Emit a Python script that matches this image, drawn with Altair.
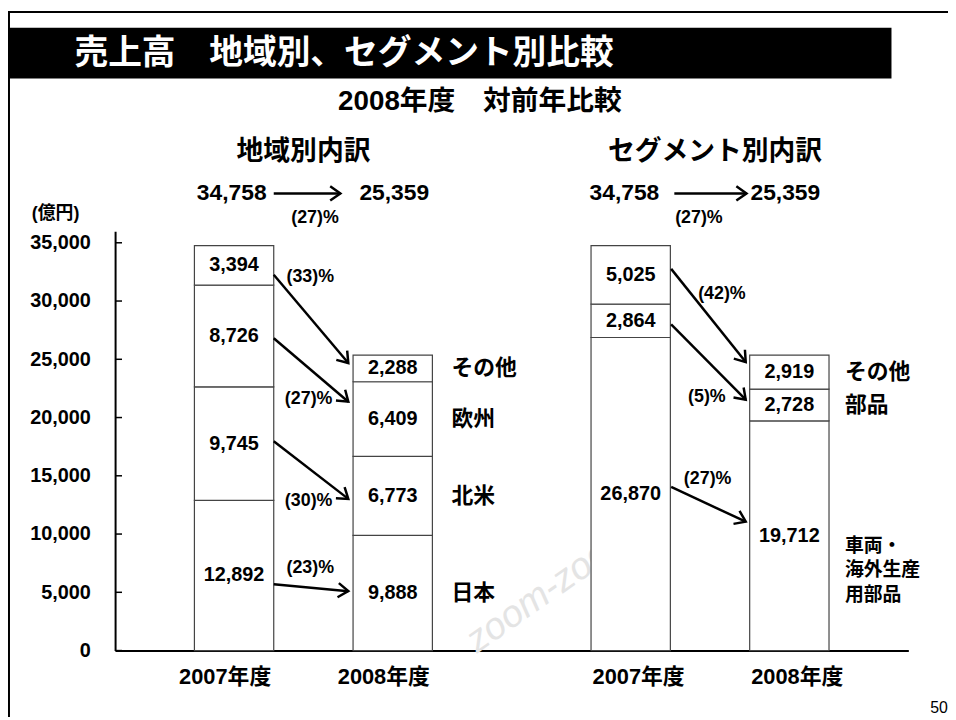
import math
import altair as alt
import pandas as pd

# ---------------- data (億円) ----------------
years = ["2007年度", "2008年度"]

region_names = ["日本", "北米", "欧州", "その他"]
region_2007 = [12892, 9745, 8726, 3394]
region_2008 = [9888, 6773, 6409, 2288]
region_change = ["(23)%", "(30)%", "(27)%", "(33)%"]

segment_names = ["車両・\n海外生産\n用部品", "部品", "その他"]
segment_2007 = [26870, 2864, 5025]
segment_2008 = [19712, 2728, 2919]
segment_change = ["(27)%", "(5)%", "(42)%"]

total_2007 = 34758
total_2008 = 25359
total_change = "(27)%"

y_ticks = [0, 5000, 10000, 15000, 20000, 25000, 30000, 35000]

# arrow end values
region_arrow_from = [5700, 17960, 26800, 32250]
region_arrow_to = [5100, 13020, 21360, 24680]
segment_arrow_from = [14040, 28000, 32760]
segment_arrow_to = [11060, 21530, 24760]

# where the change labels sit (slot, value)
region_change_at = [(2.46, 7060), (2.44, 12850), (2.44, 21620), (2.46, 32080)]
segment_change_at = [(7.47, 14720), (7.46, 21790), (7.65, 30640)]

# ---------------- layout ----------------
W, H = 800, 423
X_MAX, Y_MAX = 10, 36000
PX_X = W / X_MAX
PX_Y = H / Y_MAX
FONT = "Liberation Sans, Noto Sans CJK JP, sans-serif"
CJK = "Noto Sans CJK JP, sans-serif"

xscale = alt.Scale(domain=[0, X_MAX], nice=False, zero=False)
yscale = alt.Scale(domain=[0, Y_MAX], nice=False, zero=True)
xaxis = alt.Axis(labels=False, ticks=False, grid=False, title=None,
                 domainColor="black", domainWidth=2)
yaxis = alt.Axis(values=y_ticks, format=",d", labelFont=FONT, labelFontSize=20,
                 labelFontWeight="bold", labelColor="black", labelPadding=25,
                 ticks=False, grid=False, title=None,
                 domainColor="black", domainWidth=2)


def X(f):
    return alt.X(f"{f}:Q", scale=xscale, axis=xaxis)


def Y(f):
    return alt.Y(f"{f}:Q", scale=yscale, axis=yaxis)


panels = [
    dict(names=region_names, v07=region_2007, v08=region_2008, s07=1, s08=3,
         cat_x=4.24, chg=region_change, chg_at=region_change_at,
         a_from=region_arrow_from, a_to=region_arrow_to, ax0=2.0, ax1=2.94),
    dict(names=segment_names, v07=segment_2007, v08=segment_2008, s07=6, s08=8,
         cat_x=9.2, chg=segment_change, chg_at=segment_change_at,
         a_from=segment_arrow_from, a_to=segment_arrow_to, ax0=7.01, ax1=7.95),
]

bar_rows, cat_rows, arrow_rows, chg_rows = [], [], [], []
for p in panels:
    for slot, vals, last in ((p["s07"], p["v07"], False), (p["s08"], p["v08"], True)):
        cum = 0
        for name, v in zip(p["names"], vals):
            row = dict(x0=slot, x1=slot + 1, y0=cum, y1=cum + v, yc=cum + v / 2,
                       xc=slot + 0.5, label=f"{v:,}", name=name)
            bar_rows.append(row)
            if last:
                cat_rows.append(dict(x=p["cat_x"], y=cum + v / 2, name=name,
                                     multi="\n" in name))
            cum += v
    for f, t, c, (cx, cy) in zip(p["a_from"], p["a_to"], p["chg"], p["chg_at"]):
        ang = math.degrees(math.atan2((f - t) * PX_Y, (p["ax1"] - p["ax0"]) * PX_X)) % 360
        arrow_rows.append(dict(x0=p["ax0"], x1=p["ax1"], y0=f, y1=t, angle=ang))
        chg_rows.append(dict(x=cx, y=cy, label=c))

bars_df = pd.DataFrame(bar_rows)
cat_df = pd.DataFrame(cat_rows)
arrow_df = pd.DataFrame(arrow_rows)
chg_df = pd.DataFrame(chg_rows)

year_df = pd.DataFrame({"x": [1.5, 3.5, 6.5, 8.5],
                        "label": years * 2,
                        "panel": ["l", "l", "r", "r"]})

top_df = pd.DataFrame({
    "t_from": [f"{total_2007:,}"] * 2,
    "t_to": [f"{total_2008:,}"] * 2,
    "chg": [total_change] * 2,
    "xa": [1.91, 6.86], "x0": [2.0, 7.05], "x1": [2.84, 7.96],
    "xb": [3.08, 8.01], "xc": [2.52, 7.36], "angle": [0, 0],
})
tick_df = pd.DataFrame({"v": y_ticks})
one = pd.DataFrame({"a": [0]})

# ---------------- layers ----------------
frame_left = alt.Chart(one).mark_rule(color="black", strokeWidth=2).encode(
    x=alt.value(-107), y=alt.value(-222), y2=alt.value(490))
frame_top = alt.Chart(one).mark_rule(color="black", strokeWidth=2).encode(
    x=alt.value(-108), x2=alt.value(840), y=alt.value(-221))
title_bar = alt.Chart(one).mark_rect(color="black").encode(
    x=alt.value(-108), x2=alt.value(783), y=alt.value(-205), y2=alt.value(-154))
title_txt = alt.Chart(one).mark_text(
    text="売上高　地域別、セグメント別比較", font=CJK, fontSize=34, fontWeight="bold",
    color="white", align="left", baseline="middle").encode(
    x=alt.value(-41), y=alt.value(-179))
subtitle = alt.Chart(one).mark_text(
    text="2008年度　対前年比較", font=FONT, fontSize=28, fontWeight="bold",
    color="black", align="center", baseline="middle").encode(
    x=alt.value(368), y=alt.value(-130))
ptitle_l = alt.Chart(one).mark_text(
    text="地域別内訳", font=CJK, fontSize=27, fontWeight="bold",
    color="black", align="center", baseline="middle").encode(
    x=alt.value(190), y=alt.value(-80))
ptitle_r = alt.Chart(one).mark_text(
    text="セグメント別内訳", font=CJK, fontSize=27, fontWeight="bold",
    color="black", align="center", baseline="middle").encode(
    x=alt.value(605), y=alt.value(-80))
unit = alt.Chart(one).mark_text(
    text="(億円)", font=FONT, fontSize=18, fontWeight="bold",
    color="black", align="center", baseline="middle").encode(
    x=alt.value(-60), y=alt.value(-17))
pageno = alt.Chart(one).mark_text(
    text="50", font=FONT, fontSize=16, color="black", align="left",
    baseline="middle").encode(x=alt.value(822), y=alt.value(481))
watermark = alt.Chart(one).mark_text(
    text="zoom-zoom", font=FONT, fontSize=38, fontStyle="italic",
    color="#e4e4e4", angle=325, align="center", baseline="middle").encode(
    x=alt.value(440), y=alt.value(360))

ticks = alt.Chart(tick_df).mark_rule(color="black", strokeWidth=1.5).encode(
    x=alt.value(0), x2=alt.value(7), y=Y("v"))

bars = alt.Chart(bars_df).mark_rect(fill="white", stroke="#444444", strokeWidth=1.2).encode(
    x=X("x0"), x2="x1", y=Y("y0"), y2="y1")
values = alt.Chart(bars_df).mark_text(
    font=FONT, fontSize=20, fontWeight="bold", color="black",
    align="center", baseline="middle").encode(x=X("xc"), y=Y("yc"), text="label:N")

cats_single = alt.Chart(cat_df[~cat_df["multi"]]).mark_text(
    font=CJK, fontSize=22, fontWeight="bold", color="black",
    align="left", baseline="middle").encode(x=X("x"), y=Y("y"), text="name:N")
cats_multi = alt.Chart(cat_df[cat_df["multi"]]).mark_text(
    font=CJK, fontSize=19, fontWeight="bold", color="black", lineBreak="\n",
    lineHeight=25, align="left", baseline="middle", dy=10).encode(
    x=X("x"), y=Y("y"), text="name:N")

arrow_lines = alt.Chart(arrow_df).mark_rule(color="black", strokeWidth=2.5).encode(
    x=X("x0"), x2="x1", y=Y("y0"), y2="y1")
HEAD = "M-1,-0.7L0,0L-1,0.7"
arrow_heads = alt.Chart(arrow_df).mark_point(
    shape=HEAD, filled=False, stroke="black", strokeWidth=2.5, size=420,
    opacity=1).encode(x=X("x1"), y=Y("y1"), angle=alt.Angle("angle:Q", scale=None))
chg_text = alt.Chart(chg_df).mark_text(
    font=FONT, fontSize=18, fontWeight="bold", color="black",
    align="center", baseline="middle").encode(x=X("x"), y=Y("y"), text="label:N")

years_l = alt.Chart(year_df[year_df["panel"] == "l"]).mark_text(
    font=FONT, fontSize=22, fontWeight="bold", color="black", dx=-9,
    align="center", baseline="middle").encode(x=X("x"), y=alt.value(450), text="label:N")
years_r = alt.Chart(year_df[year_df["panel"] == "r"]).mark_text(
    font=FONT, fontSize=22, fontWeight="bold", color="black", dx=8,
    align="center", baseline="middle").encode(x=X("x"), y=alt.value(450), text="label:N")

top_from = alt.Chart(top_df).mark_text(
    font=FONT, fontSize=23, fontWeight="bold", color="black",
    align="right", baseline="middle").encode(x=X("xa"), y=alt.value(-38), text="t_from:N")
top_to = alt.Chart(top_df).mark_text(
    font=FONT, fontSize=23, fontWeight="bold", color="black",
    align="left", baseline="middle").encode(x=X("xb"), y=alt.value(-38), text="t_to:N")
top_line = alt.Chart(top_df).mark_rule(color="black", strokeWidth=2.5).encode(
    x=X("x0"), x2="x1", y=alt.value(-38))
top_head = alt.Chart(top_df).mark_point(
    shape=HEAD, filled=False, stroke="black", strokeWidth=2.5, size=420,
    opacity=1).encode(x=X("x1"), y=alt.value(-38), angle=alt.Angle("angle:Q", scale=None))
top_chg = alt.Chart(top_df).mark_text(
    font=FONT, fontSize=18, fontWeight="bold", color="black",
    align="center", baseline="middle").encode(x=X("xc"), y=alt.value(-13), text="chg:N")

chart = alt.layer(
    watermark, bars, values, ticks, cats_single, cats_multi,
    arrow_lines, arrow_heads, chg_text, years_l, years_r,
    top_from, top_to, top_line, top_head, top_chg,
    frame_left, frame_top, title_bar, title_txt, subtitle, ptitle_l, ptitle_r,
    unit, pageno,
).properties(
    width=W, height=H,
    autosize=alt.AutoSizeParams(type="none"),
    padding={"left": 108, "top": 222, "right": 40, "bottom": 67},
    background="white",
).configure_view(stroke=None)

chart.save("out.html", embed_options={"renderer": "svg", "actions": False})
